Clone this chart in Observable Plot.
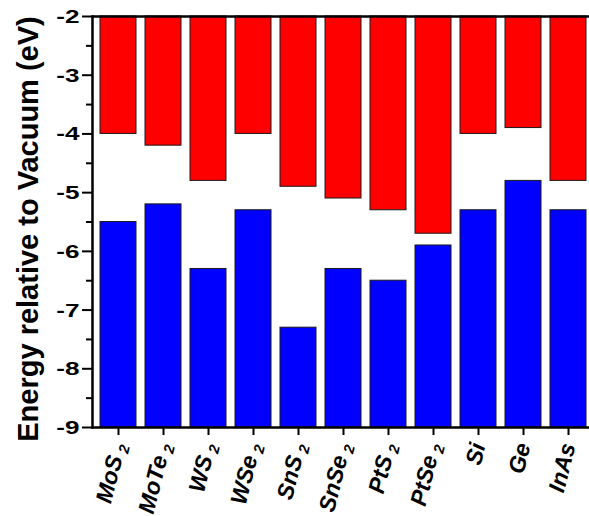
<!DOCTYPE html>
<html>
<head>
<meta charset="utf-8">
<script src="https://cdn.jsdelivr.net/npm/d3@7"></script>
<script src="https://cdn.jsdelivr.net/npm/@observablehq/plot@0.6"></script>
<style>
  html, body { margin: 0; padding: 0; background: #fff; }
  #chart { width: 589px; height: 516px; overflow: hidden; }
</style>
</head>
<body>
<div id="chart"></div>
<script>
const materials = ["MoS2", "MoTe2", "WS2", "WSe2", "SnS2", "SnSe2", "PtS2", "PtSe2", "Si", "Ge", "InAs"];
const conductionBand = [-4.0, -4.2, -4.8, -4.0, -4.9, -5.1, -5.3, -5.7, -4.0, -3.9, -4.8];
const valenceBand = [-5.5, -5.2, -6.3, -5.3, -7.3, -6.3, -6.5, -5.9, -5.3, -4.8, -5.3];
const yTicks = [-9, -8, -7, -6, -5, -4, -3, -2];
const yMinorTicks = [-8.5, -7.5, -6.5, -5.5, -4.5, -3.5, -2.5];
const yDomain = [-9, -2];
const yLabel = "Energy relative to Vacuum (eV)";

const rows = materials.map((name, i) => ({name, cb: conductionBand[i], vb: valenceBand[i]}));
const font = "'Liberation Sans', Arial, Helvetica, sans-serif";

const chart = Plot.plot({
  width: 589,
  height: 516,
  marginTop: 16,
  marginBottom: 89,
  marginLeft: 92,
  marginRight: -5,
  style: {fontFamily: font, background: "#fff", color: "#000"},
  x: {domain: materials, paddingInner: 0.19, paddingOuter: 0.09},
  y: {domain: yDomain},
  marks: [
    Plot.barY(rows, {x: "name", y1: yDomain[1], y2: "cb", fill: "#ff0000", stroke: "#1a1a1a", strokeWidth: 1}),
    Plot.barY(rows, {x: "name", y1: yDomain[0], y2: "vb", fill: "#0000ff", stroke: "#1a1a1a", strokeWidth: 1}),
    Plot.ruleY([yDomain[1]], {stroke: "#000", strokeWidth: 2.5}),
    Plot.ruleY([yDomain[0]], {stroke: "#000", strokeWidth: 2.5}),
    Plot.frame({anchor: "left", stroke: "#000", strokeWidth: 2.5}),
    Plot.axisY(yTicks, {tickSize: 10, tickPadding: 3, strokeWidth: 2, fontSize: 18, fontWeight: "bold",
      tickFormat: d => String(d), label: null}),
    Plot.axisY(yMinorTicks, {tickSize: 6, strokeWidth: 2, text: null, label: null}),
    Plot.axisX({tickSize: 8, tickPadding: 8, strokeWidth: 2, tickRotate: -76, fontSize: 23,
      fontWeight: "bold", fontStyle: "italic", label: null}),
    Plot.text([yLabel], {frameAnchor: "left", textAnchor: "middle", rotate: -90, dx: -55, dy: 7, lineAnchor: "bottom",
      fontSize: 29, fontWeight: "bold", fill: "#000"})
  ]
});

// subscripts for the trailing "2" in compound names
d3.select(chart).selectAll('g[aria-label="x-axis tick label"] text').each(function() {
  const t = this.textContent;
  if (/2$/.test(t)) {
    this.textContent = t.slice(0, -1);
    d3.select(this).append("tspan").attr("dx", "0.3em").attr("dy", "0.3em").attr("font-size", "0.64em").text("2");
  }
});

// widen the y tick numerals as in the reference
d3.select(chart).selectAll('g[aria-label="y-axis tick label"] text').each(function() {
  const el = d3.select(this);
  let tr = el.attr("transform") || "";
  const x = el.attr("x"), y = el.attr("y");
  if (x != null || y != null) {
    tr = `translate(${+x || 0},${+y || 0}) ` + tr;
    el.attr("x", null).attr("y", null);
  }
  el.attr("transform", tr + " scale(1.45,1)").attr("dy", "0.36em");
});

document.getElementById("chart").append(chart);
</script>
</body>
</html>
